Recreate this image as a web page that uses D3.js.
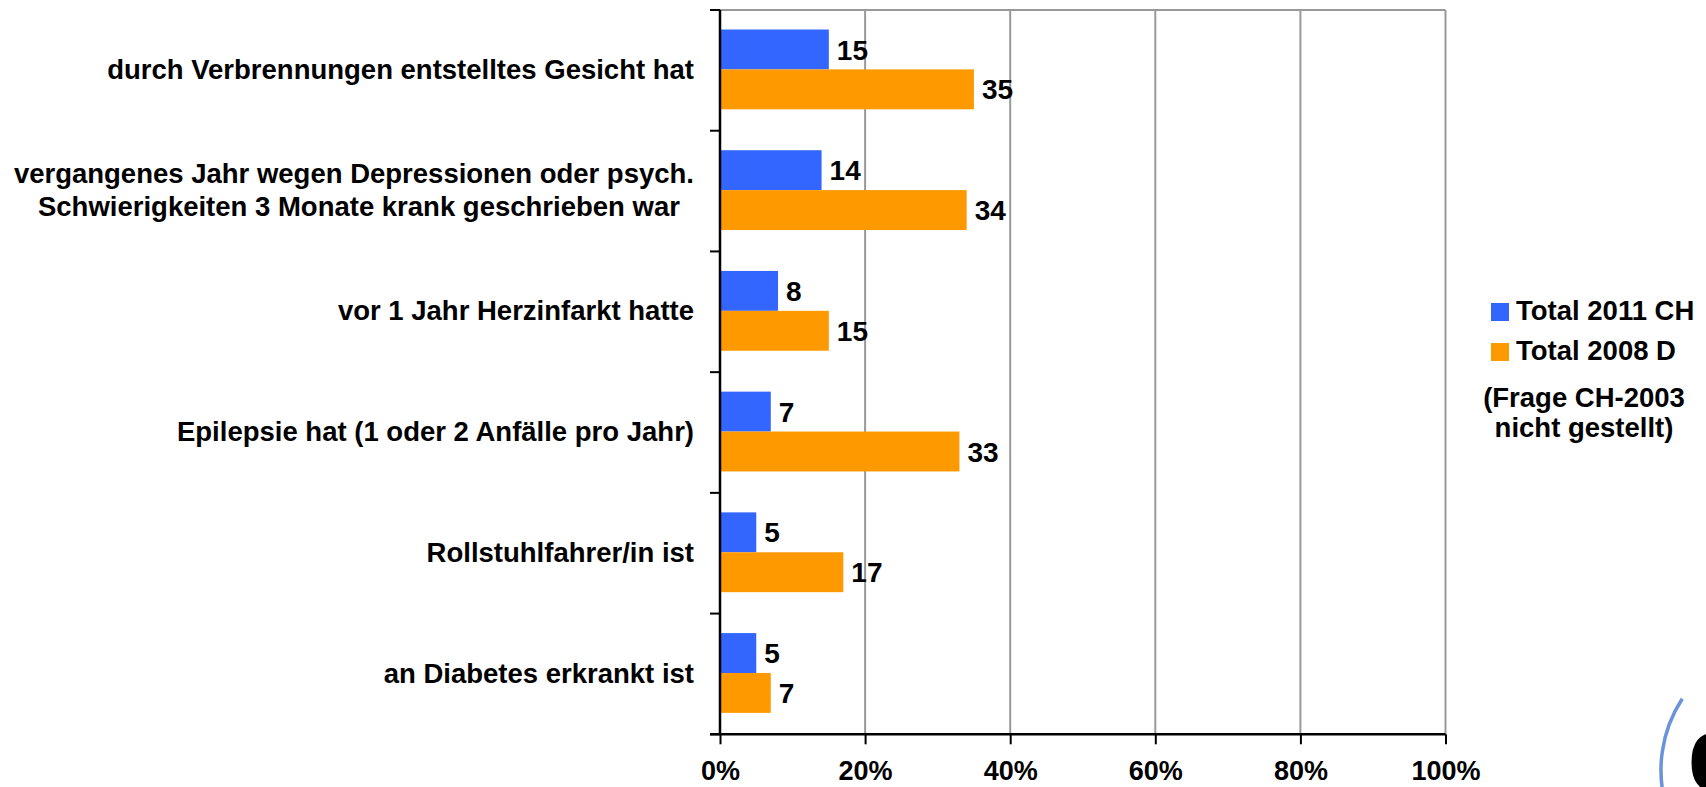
<!DOCTYPE html>
<html>
<head>
<meta charset="utf-8">
<script src="https://cdn.jsdelivr.net/npm/d3@7"></script>
<style>
  body { margin: 0; background: #fff; }
  svg { display: block; font-family: "Liberation Sans", Arial, sans-serif; font-weight: bold; }
</style>
</head>
<body>
<svg id="chart" width="1706" height="787"></svg>
<script>
// categories, top to bottom (each label can have several lines)
const categories = [
    ['durch Verbrennungen entstelltes Gesicht hat'],
    ['vergangenes Jahr wegen Depressionen oder psych.', 'Schwierigkeiten 3 Monate krank geschrieben war'],
    ['vor 1 Jahr Herzinfarkt hatte'],
    ['Epilepsie hat (1 oder 2 Anfälle pro Jahr)'],
    ['Rollstuhlfahrer/in ist'],
    ['an Diabetes erkrankt ist']
];
const seriesNames = ['Total 2011 CH', 'Total 2008 D'];
const ch2011 = [15, 14, 8, 7, 5, 5];
const d2008 = [35, 34, 15, 33, 17, 7];
const xTicks = [0, 20, 40, 60, 80, 100];
const legendNote = ['(Frage CH-2003', 'nicht gestellt)'];

const colors = ['#3366FF', '#FF9900'];
const labelSize = 27.5;
const valueSize = 28;
const tickSize = 27;

const plot = { left: 720, right: 1445.5, top: 10, bottom: 734.3 };

const svg = d3.select('#chart');

const rows = categories.map((lines, i) => ({
    id: i,
    lines: lines,
    values: [ch2011[i], d2008[i]]
}));

const x = d3.scaleLinear().domain([0, 100]).range([plot.left, plot.right]);

const y = d3.scaleBand()
    .domain(rows.map(d => d.id))
    .range([plot.top, plot.bottom])
    .padding(0);

// two bars inside each category band
const barTop = 19.5, barBottom = 99.3;
const ySeries = d3.scaleBand()
    .domain([0, 1])
    .range([barTop, barBottom])
    .padding(0);

// vertical gridlines + top border
svg.append('g')
    .selectAll('line')
    .data(xTicks.filter(t => t > 0))
    .join('line')
    .attr('x1', d => x(d)).attr('x2', d => x(d))
    .attr('y1', plot.top).attr('y2', plot.bottom)
    .attr('stroke', '#999')
    .attr('stroke-width', 2);

svg.append('line')
    .attr('x1', plot.left).attr('x2', plot.right)
    .attr('y1', plot.top).attr('y2', plot.top)
    .attr('stroke', '#999')
    .attr('stroke-width', 2);

// bars
const groups = svg.append('g')
    .selectAll('g')
    .data(rows)
    .join('g')
    .attr('transform', d => `translate(0,${y(d.id)})`);

groups.selectAll('rect')
    .data(d => d.values)
    .join('rect')
    .attr('x', x(0))
    .attr('y', (d, i) => ySeries(i))
    .attr('width', d => x(d) - x(0))
    .attr('height', ySeries.bandwidth())
    .attr('fill', (d, i) => colors[i]);

// value labels
groups.selectAll('text.val')
    .data(d => d.values)
    .join('text')
    .attr('class', 'val')
    .attr('x', d => x(d) + 8)
    .attr('y', (d, i) => ySeries(i) + ySeries.bandwidth() / 2)
    .attr('dy', '0.36em')
    .attr('font-size', valueSize)
    .attr('fill', '#000')
    .text(d => d);

// x axis
const xAxis = d3.axisBottom(x)
    .tickValues(xTicks)
    .tickSize(10)
    .tickFormat(d => d + '%');

const gx = svg.append('g')
    .attr('transform', `translate(0,${plot.bottom})`)
    .call(xAxis);
gx.select('.domain').attr('stroke', '#000').attr('stroke-width', 2.5)
    .attr('d', `M${plot.left - 10},0H${plot.right}`);
gx.selectAll('.tick line').attr('stroke', '#000').attr('stroke-width', 2);
gx.selectAll('.tick text')
    .attr('font-family', null)
    .attr('font-size', tickSize)
    .attr('fill', '#000')
    .attr('y', 0)
    .attr('dy', 46);

// y axis: line plus ticks between categories
const yAxis = svg.append('g');
yAxis.append('line')
    .attr('x1', plot.left).attr('x2', plot.left)
    .attr('y1', plot.top).attr('y2', plot.bottom)
    .attr('stroke', '#000')
    .attr('stroke-width', 2.5);
yAxis.selectAll('line.tick')
    .data(rows.map(d => y(d.id)).concat([plot.bottom]))
    .join('line')
    .attr('class', 'tick')
    .attr('x1', plot.left - 10).attr('x2', plot.left)
    .attr('y1', d => d).attr('y2', d => d)
    .attr('stroke', '#000')
    .attr('stroke-width', 2);

// category labels
const labelRight = 694;
const lineGap = 33;
rows.forEach(r => {
    const cy = y(r.id) + y.bandwidth() / 2 - 1;
    const n = r.lines.length;
    const t = svg.append('text')
        .attr('font-size', labelSize)
        .attr('fill', '#000');
    if (n === 1) {
        t.attr('x', labelRight).attr('y', cy).attr('dy', '0.35em')
            .attr('text-anchor', 'end').text(r.lines[0]);
    } else {
        // multi-line labels are centred on each other, block right aligned
        t.text(r.lines[0]);
        const w0 = t.node().getComputedTextLength();
        t.remove();
        const mid = labelRight - w0 / 2;
        r.lines.forEach((line, k) => {
            svg.append('text')
                .attr('font-size', labelSize)
                .attr('fill', '#000')
                .attr('text-anchor', 'middle')
                .attr('x', mid + (k === 0 ? 0 : 5))
                .attr('y', cy + (k - (n - 1) / 2) * lineGap)
                .attr('dy', '0.35em')
                .text(line);
        });
    }
});

// legend
const legend = svg.append('g').attr('transform', 'translate(1491,301)');
seriesNames.forEach((name, i) => {
    const g = legend.append('g').attr('transform', `translate(0,${i * 40})`);
    g.append('rect')
        .attr('width', 18).attr('height', 18)
        .attr('y', 2)
        .attr('fill', colors[i]);
    g.append('text')
        .attr('x', 25).attr('y', 19)
        .attr('font-size', labelSize)
        .attr('fill', '#000')
        .text(name);
});
legend.selectAll('text.note')
    .data(legendNote)
    .join('text')
    .attr('class', 'note')
    .attr('x', 93)
    .attr('y', (d, i) => 106 + i * 30)
    .attr('text-anchor', 'middle')
    .attr('font-size', labelSize)
    .attr('fill', '#000')
    .text(d => d);

// partial logo, cut off at the bottom right corner
svg.append('path')
    .attr('d', d3.arc()({
        innerRadius: 130, outerRadius: 130,
        startAngle: -Math.PI / 2 - 0.3, endAngle: -Math.PI / 2 + 0.58
    }))
    .attr('transform', 'translate(1791,770)')
    .attr('fill', 'none')
    .attr('stroke', '#6a93dc')
    .attr('stroke-width', 3.5)
    .attr('stroke-linecap', 'round');
svg.append('text')
    .attr('x', 1687).attr('y', 792)
    .attr('font-size', 110)
    .attr('fill', '#000')
    .text('g');
</script>
</body>
</html>
